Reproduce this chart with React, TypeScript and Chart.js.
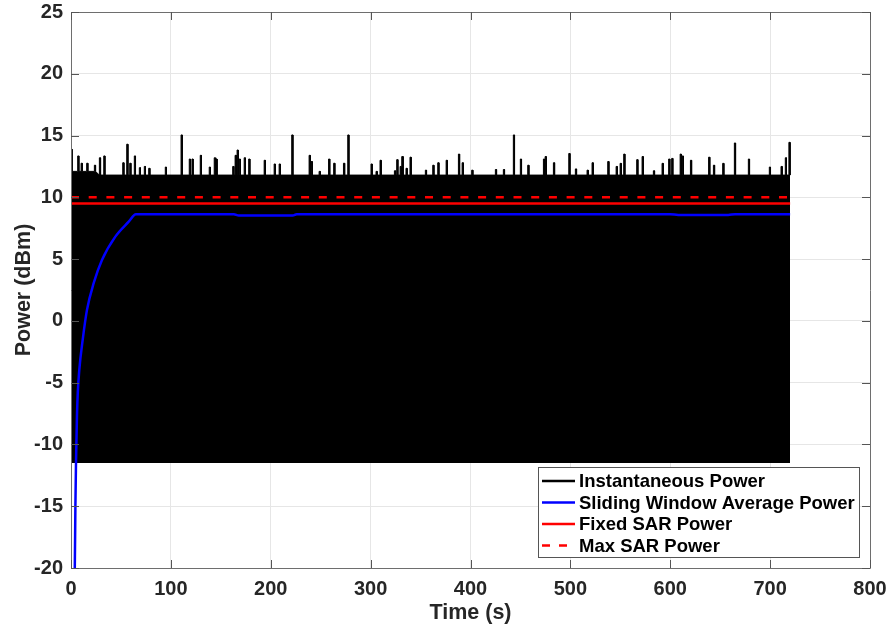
import React, { useEffect, useRef } from 'react';
import { Chart, registerables } from 'chart.js';

Chart.register(...registerables);

// ---- Data ----
const xMin = 0;
const xMax = 800;
const xStep = 100;
const yMin = -20;
const yMax = 25;
const yStep = 5;

// Instantaneous power envelope (dense oscillation drawn as its envelope)
const instLower = -11.5;
const instEnd = 720;
const instBaseEarly = 12.1;
const instBaseLate = 11.8;
const instBaseSwitch = 28;
const spikeTimes = [
  0.5, 7.3, 10.7, 16.3, 24, 29, 33.4, 52.4, 56.4, 59.4, 64, 69, 74, 78.4, 95, 110.8, 119, 121.7, 130, 139,
  144, 145.7, 162.5, 164.9, 166.9, 169, 174, 178.5, 194, 204, 209, 221.6, 239, 241, 249, 258.5, 263.6, 273.4,
  277.7, 301, 306, 310, 324.4, 326.7, 330.1, 332, 336, 340, 355.4, 362.8, 367.8, 376.2, 388.5, 392.2, 401.8,
  425.5, 433.5, 443.5, 450.5, 457.9, 473.6, 475.3, 483.6, 499, 505.6, 517.3, 522.3, 538, 546.4, 550.4, 554,
  567, 572.4, 583.7, 592.4, 599, 602, 610.5, 612.5, 620.8, 639, 643.8, 653.1, 664.8, 678.8, 699.8, 711.5,
  715.8, 719.4,
];
const spikePeaks = [
  13.9, 13.35, 12.76, 12.76, 12.6, 13.2, 13.35, 12.8, 14.3, 12.76, 13.35, 12.4, 12.5, 12.35, 12.45, 15.05, 13.1, 13.1, 13.4, 12.45,
  13.2, 13.1, 12.5, 13.4, 13.83, 13.1, 13.2, 13.1, 13.0, 12.7, 12.7, 15.05, 13.4, 12.9, 12.1, 13.1, 12.76, 12.76,
  15.05, 12.7, 12.1, 13.0, 12.15, 13.05, 12.5, 13.3, 12.35, 13.25, 12.2, 12.6, 12.8, 13.0, 13.5, 12.8, 12.2,
  12.25, 12.25, 15.05, 13.1, 12.6, 13.1, 13.3, 12.8, 13.55, 12.3, 12.2, 12.8, 12.9, 12.5, 12.75, 13.5,
  13.05, 13.3, 12.15, 12.75, 13.1, 13.15, 13.5, 13.35, 13.0, 13.25, 12.6, 12.75, 14.4, 13.1, 12.45, 12.5,
  13.2, 14.45,
];
const spikeHalfWidth = 0.6;

// Sliding window average power
const avgTimes = [3.5, 3.8, 4.4, 5, 6, 6.8, 8.3, 11.7, 16, 22.7, 31, 44.4, 57.8, 65, 163, 168, 222, 226, 600, 608, 658, 665, 720];
const avgValues = [-21, -20, -15, -11.5, -7.6, -5.8, -3.96, -1.54, 0.89, 3.05, 4.93, 6.82, 8.03, 8.63, 8.63, 8.52, 8.52, 8.63, 8.63, 8.58, 8.58, 8.63, 8.63];

// SAR levels
const sarTimes = [0, 720];
const fixedSar = [9.5, 9.5];
const maxSar = [10, 10];

const legendLabels = ['Instantaneous Power', 'Sliding Window Average Power', 'Fixed SAR Power', 'Max SAR Power'];

const FONT = "'Liberation Sans', Arial, Helvetica, sans-serif";

function buildEnvelope() {
  const pts: { x: number; y: number }[] = [];
  const base = (t: number) => (t < instBaseSwitch ? instBaseEarly : instBaseLate);
  pts.push({ x: 0, y: spikePeaks[0] });
  pts.push({ x: spikeTimes[0] + spikeHalfWidth, y: spikePeaks[0] });
  pts.push({ x: spikeTimes[0] + spikeHalfWidth, y: base(spikeTimes[0]) });
  for (let i = 1; i < spikeTimes.length; i++) {
    const t = spikeTimes[i];
    const b = base(t);
    const l = t - spikeHalfWidth;
    const r = Math.min(instEnd, t + spikeHalfWidth);
    pts.push({ x: l, y: base(l) });
    pts.push({ x: l, y: spikePeaks[i] });
    pts.push({ x: r, y: spikePeaks[i] });
    pts.push({ x: r, y: b });
  }
  if (pts[pts.length - 1].x < instEnd) pts.push({ x: instEnd, y: instBaseLate });
  return pts;
}

const framePlugin = {
  id: 'frameAndLegend',
  afterDraw(chart: any) {
    const { ctx, chartArea } = chart;
    const { left, right, top, bottom } = chartArea;
    const xs = chart.scales.x;
    const ys = chart.scales.y;
    ctx.save();
    ctx.strokeStyle = '#6e6e6e';
    ctx.lineWidth = 1;
    ctx.beginPath();
    ctx.rect(Math.round(left) + 0.5, Math.round(top) + 0.5, Math.round(right - left), Math.round(bottom - top));
    ctx.stroke();
    // inward ticks
    const tl = 8;
    ctx.strokeStyle = '#555555';
    ctx.beginPath();
    for (let v = xMin; v <= xMax; v += xStep) {
      const px = Math.round(xs.getPixelForValue(v)) + 0.5;
      ctx.moveTo(px, bottom);
      ctx.lineTo(px, bottom - tl);
      ctx.moveTo(px, top);
      ctx.lineTo(px, top + tl);
    }
    for (let v = yMin; v <= yMax; v += yStep) {
      const py = Math.round(ys.getPixelForValue(v)) + 0.5;
      ctx.moveTo(left, py);
      ctx.lineTo(left + tl, py);
      ctx.moveTo(right, py);
      ctx.lineTo(right - tl, py);
    }
    ctx.stroke();

    // legend box
    const bx = 538.5, by = 467.5, bw = 321, bh = 90;
    ctx.fillStyle = '#ffffff';
    ctx.fillRect(bx, by, bw, bh);
    ctx.strokeStyle = '#555555';
    ctx.lineWidth = 1;
    ctx.strokeRect(bx, by, bw, bh);
    const rows = [481, 502.5, 524, 545.5];
    const styles = [
      { c: '#000000', d: [] as number[] },
      { c: '#0000ff', d: [] as number[] },
      { c: '#ff0000', d: [] as number[] },
      { c: '#ff0000', d: [8, 9] },
    ];
    ctx.font = `bold 18.5px ${FONT}`;
    ctx.textBaseline = 'middle';
    ctx.textAlign = 'left';
    rows.forEach((ry, i) => {
      ctx.beginPath();
      ctx.setLineDash(styles[i].d);
      ctx.strokeStyle = styles[i].c;
      ctx.lineWidth = 2.5;
      ctx.moveTo(542, ry);
      ctx.lineTo(575, ry);
      ctx.stroke();
      ctx.setLineDash([]);
      ctx.fillStyle = '#000000';
      ctx.fillText(legendLabels[i], 579, ry + 1);
    });
    ctx.restore();
  },
};

export default function App() {
  const ref = useRef<HTMLCanvasElement>(null);
  useEffect(() => {
    if (!ref.current) return;
    const envelope = buildEnvelope();
    const chart = new Chart(ref.current, {
      type: 'line',
      data: {
        datasets: [
          {
            label: legendLabels[3],
            data: sarTimes.map((t, i) => ({ x: t, y: maxSar[i] })),
            borderColor: '#ff0000',
            borderWidth: 2.5,
            borderDash: [8, 9.7],
            pointRadius: 0,
            fill: false,
            order: 1,
          },
          {
            label: legendLabels[2],
            data: sarTimes.map((t, i) => ({ x: t, y: fixedSar[i] })),
            borderColor: '#ff0000',
            borderWidth: 2.5,
            pointRadius: 0,
            fill: false,
            order: 2,
          },
          {
            label: legendLabels[1],
            data: avgTimes.map((t, i) => ({ x: t, y: avgValues[i] })),
            borderColor: '#0000ff',
            borderWidth: 2.5,
            pointRadius: 0,
            cubicInterpolationMode: 'monotone',
            fill: false,
            order: 3,
          },
          {
            label: legendLabels[0],
            data: envelope,
            borderColor: '#000000',
            backgroundColor: '#000000',
            borderWidth: 1,
            pointRadius: 0,
            fill: { value: instLower },
            order: 4,
          },
        ],
      },
      options: {
        animation: false,
        responsive: false,
        events: [],
        layout: { padding: { left: 0, right: 23, top: 12, bottom: 0 } },
        plugins: {
          legend: { display: false },
          tooltip: { enabled: false },
        },
        scales: {
          x: {
            type: 'linear',
            min: xMin,
            max: xMax,
            afterFit: (s: any) => {
              s.height = 63;
              s.paddingLeft = 0;
              s.paddingRight = 0;
            },
            ticks: {
              stepSize: xStep,
              color: '#262626',
              padding: 9,
              font: { family: FONT, size: 20, weight: 'bold' },
              maxRotation: 0,
            },
            grid: { color: '#e6e6e6', drawTicks: false },
            border: { display: false },
            title: {
              display: true,
              text: 'Time (s)',
              color: '#262626',
              font: { family: FONT, size: 21.5, weight: 'bold', lineHeight: 1.2 },
              padding: { top: 0, bottom: 5 },
            },
          },
          y: {
            type: 'linear',
            min: yMin,
            max: yMax,
            afterFit: (s: any) => {
              s.width = 71;
              s.paddingTop = 0;
              s.paddingBottom = 0;
            },
            ticks: {
              stepSize: yStep,
              color: '#262626',
              padding: 8,
              font: { family: FONT, size: 20, weight: 'bold' },
            },
            grid: { color: '#e6e6e6', drawTicks: false },
            border: { display: false },
            title: {
              display: true,
              text: 'Power (dBm)',
              color: '#262626',
              font: { family: FONT, size: 21.5, weight: 'bold', lineHeight: 1.2 },
              padding: { top: 11, bottom: 0 },
            },
          },
        },
      },
      plugins: [framePlugin],
    } as any);
    return () => chart.destroy();
  }, []);
  return (
    <div style={{ position: 'absolute', left: 0, top: 0, width: 893, height: 631, background: '#fff' }}>
      <canvas ref={ref} width={893} height={631} style={{ display: 'block' }} />
    </div>
  );
}
